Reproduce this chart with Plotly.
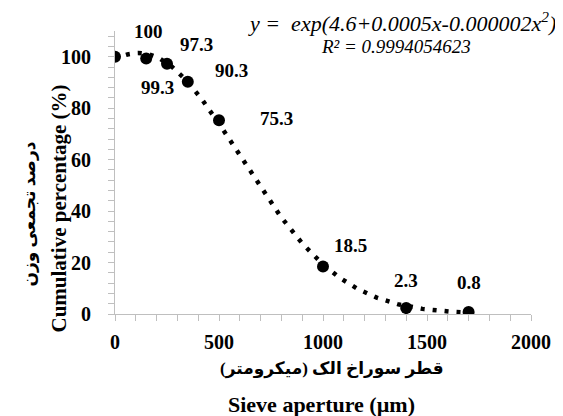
import numpy as np
import plotly.graph_objects as go

# ---- data ----
sieve_um = [0, 150, 250, 350, 500, 1000, 1400, 1700]
cum_pct = [100, 99.3, 97.3, 90.3, 75.3, 18.5, 2.3, 0.8]
point_labels = ["100", "99.3", "97.3", "90.3", "75.3", "18.5", "2.3", "0.8"]
x_ticks = [0, 500, 1000, 1500, 2000]
y_ticks = [0, 20, 40, 60, 80, 100]

# label offsets in pixels (style)
label_dx = [33, 11, 29, 44, 57, 27, 0, 0]
label_dy = [-25, 29, -19, -11, -2, -21, -28, -29]

# ---- trendline: least-squares fit of y = exp(a + b x + c x^2) ----
X = np.array(sieve_um, float)
Y = np.array(cum_pct, float)
coef = np.polyfit(X, np.log(Y), 2, w=Y)  # start: weighted log fit
for _ in range(30):  # Gauss-Newton refinement in linear space
    f = np.exp(np.polyval(coef, X))
    J = np.stack([f * X**2, f * X, f], axis=1)
    step, *_ = np.linalg.lstsq(J, Y - f, rcond=None)
    coef = coef + step
xs = np.linspace(0, X.max(), 200)
ys = np.exp(np.polyval(coef, xs))

FONT = "Liberation Serif"
FONT_AR = "Liberation Serif, DejaVu Serif, DejaVu Sans"

fig = go.Figure()
fig.add_trace(go.Scatter(x=xs, y=ys, mode="lines",
                         line=dict(color="black", width=4.5, dash="4px,8px"),
                         hoverinfo="skip", showlegend=False))
fig.add_trace(go.Scatter(x=sieve_um, y=cum_pct, mode="markers",
                         marker=dict(color="black", size=12),
                         showlegend=False))

for x, y, t, dx, dy in zip(sieve_um, cum_pct, point_labels, label_dx, label_dy):
    fig.add_annotation(x=x, y=y, text="<b>%s</b>" % t, showarrow=False, xshift=dx, yshift=-dy,
                       font=dict(family=FONT, size=19, color="black"))

axis_color = "#bfbfbf"
fig.update_xaxes(range=[0, 2000], tickvals=x_ticks, ticktext=["<b>%d</b>" % v for v in x_ticks],
                 showline=True, linecolor=axis_color,
                 linewidth=1, ticks="outside", ticklen=6, tickcolor=axis_color,
                 showgrid=False, zeroline=False, ticklabelstandoff=4,
                 minor=dict(dtick=100, ticks="outside", ticklen=6, tickcolor=axis_color),
                 tickfont=dict(family=FONT, size=20, color="black"))
fig.update_yaxes(range=[0, 110], tickvals=y_ticks, ticktext=["<b>%d</b>" % v for v in y_ticks],
                 showline=True, linecolor=axis_color,
                 linewidth=1, ticks="outside", ticklen=6, tickcolor=axis_color,
                 showgrid=False, zeroline=False, ticklabelstandoff=13,
                 minor=dict(dtick=4, ticks="outside", ticklen=6, tickcolor=axis_color),
                 tickfont=dict(family=FONT, size=20, color="black"))

# equation and R^2
fig.add_annotation(xref="paper", yref="paper", x=1.0, y=1.0, xanchor="right", yanchor="middle",
                   xshift=27, yshift=9,
                   text="<i>y =  exp(4.6+0.0005x-0.000002x<sup>2</sup>)</i>", showarrow=False,
                   font=dict(family=FONT, size=22, color="black"))
fig.add_annotation(xref="paper", yref="paper", x=1.0, y=1.0, xanchor="center", yanchor="middle",
                   xshift=-135, yshift=-15,
                   text="<i>R² = 0.9994054623</i>", showarrow=False,
                   font=dict(family=FONT, size=19, color="black"))

# axis titles
fig.add_annotation(xref="paper", yref="paper", x=0, y=0.5, xanchor="center", yanchor="middle",
                   xshift=-86, yshift=-42, textangle=-90,
                   text="<b>درصد تجمعی وزن</b>", showarrow=False,
                   font=dict(family=FONT_AR, size=17, color="black"))
fig.add_annotation(xref="paper", yref="paper", x=0, y=0.5, xanchor="center", yanchor="middle",
                   xshift=-57, yshift=-36, textangle=-90,
                   text="<b>Cumulative percentage (%)</b>", showarrow=False,
                   font=dict(family=FONT, size=21, color="black"))
fig.add_annotation(xref="paper", yref="paper", x=0.5, y=0, xanchor="center", yanchor="middle",
                   xshift=9, yshift=-55,
                   text="<b>قطر سوراخ الک (میکرومتر)</b>", showarrow=False,
                   font=dict(family=FONT_AR, size=17, color="black"))
fig.add_annotation(xref="paper", yref="paper", x=0.5, y=0, xanchor="center", yanchor="middle",
                   xshift=-2, yshift=-90,
                   text="<b>Sieve aperture (µm)</b>", showarrow=False,
                   font=dict(family=FONT, size=22, color="black"))

fig.update_layout(width=555, height=408, margin=dict(l=107, r=30, t=23, b=102),
                  plot_bgcolor="white", paper_bgcolor="white")

fig.write_html("out.html")
